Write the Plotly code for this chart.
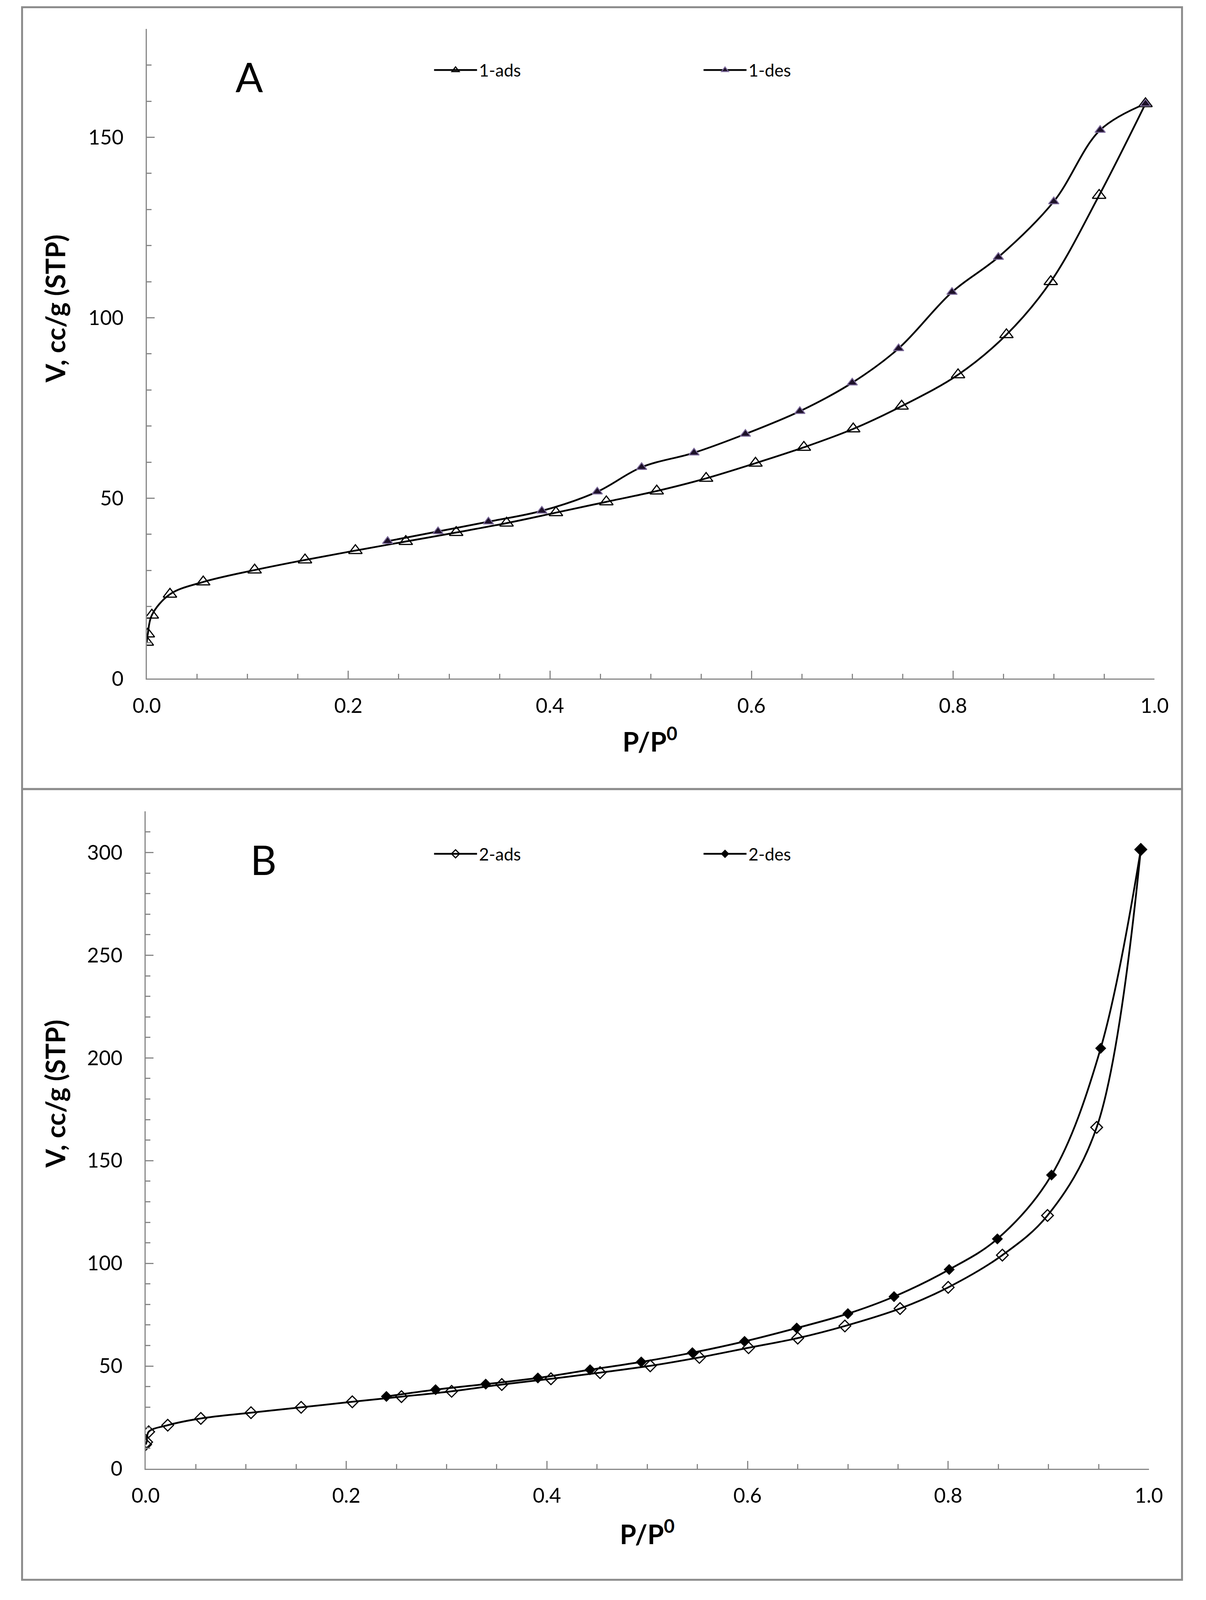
import plotly.graph_objects as go

# Reference frame (used for proportional placement) and the actual visible viewport size
REF_W, REF_H = 3088, 4822
FIG_W, FIG_H = 3088, 4096

# ---------------- Data: Panel A ----------------
a_ads_x = [0.000, 0.001, 0.005, 0.023, 0.056, 0.107, 0.157, 0.207, 0.257, 0.307, 0.357, 0.406,
           0.456, 0.506, 0.555, 0.604, 0.652, 0.701, 0.749, 0.805, 0.853, 0.897, 0.945, 0.991]
a_ads_y = [10.1, 12.4, 17.6, 23.4, 26.8, 30.1, 32.9, 35.5, 38.0, 40.5, 43.1, 46.0,
           49.0, 52.0, 55.5, 59.7, 64.1, 69.2, 75.5, 84.2, 95.3, 110.0, 133.9, 159.3]
a_des_x = [0.991, 0.946, 0.900, 0.845, 0.799, 0.746, 0.700, 0.648, 0.594, 0.543, 0.491,
           0.447, 0.392, 0.339, 0.289, 0.239]
a_des_y = [159.3, 152.0, 132.2, 116.8, 107.1, 91.5, 82.0, 74.1, 67.8, 62.6, 58.6,
           51.8, 46.5, 43.5, 40.8, 38.1]

# ---------------- Data: Panel B ----------------
b_ads_x = [0.000, 0.001, 0.003, 0.022, 0.055, 0.105, 0.155, 0.206, 0.255, 0.305, 0.355, 0.404,
           0.453, 0.503, 0.552, 0.601, 0.650, 0.697, 0.752, 0.800, 0.854, 0.899, 0.948, 0.992]
b_ads_y = [11.8, 13.0, 18.0, 21.2, 24.5, 27.3, 29.9, 32.6, 35.1, 37.7, 41.0, 43.8,
           46.8, 50.1, 54.2, 58.9, 63.6, 69.5, 78.0, 88.3, 104.0, 123.3, 166.2, 301.5]
b_des_x = [0.992, 0.952, 0.903, 0.849, 0.801, 0.746, 0.700, 0.649, 0.597, 0.545, 0.494,
           0.443, 0.391, 0.339, 0.289, 0.240]
b_des_y = [301.5, 204.7, 143.0, 111.9, 97.0, 83.8, 75.5, 68.5, 62.0, 56.5, 52.0,
           48.2, 44.2, 41.2, 38.5, 35.2]

x_ticks = [0.0, 0.2, 0.4, 0.6, 0.8, 1.0]
x_ticklabels = ["0.0", "0.2", "0.4", "0.6", "0.8", "1.0"]
a_yticks = [0, 50, 100, 150]
b_yticks = [0, 50, 100, 150, 200, 250, 300]

FONT = "Lato, 'Open Sans', sans-serif"
AXIS_GREY = "#878787"


def px(x):
    return x / REF_W


def py(y):
    return 1 - y / REF_H


fig = go.Figure()

line = dict(color="black", width=4.5, shape="spline", smoothing=1.0)

fig.add_trace(go.Scatter(
    x=a_ads_x, y=a_ads_y, mode="lines+markers", name="1-ads", line=line,
    marker=dict(symbol="triangle-up-open", size=30, color="black", line=dict(width=3, color="black")),
    xaxis="x", yaxis="y", legend="legend"))
fig.add_trace(go.Scatter(
    x=a_des_x, y=a_des_y, mode="lines+markers", name="1-des", line=line,
    marker=dict(symbol="triangle-up", size=23, color="#1c1028", line=dict(width=2.5, color="#7e6c9c")),
    xaxis="x", yaxis="y", legend="legend"))
fig.add_trace(go.Scatter(
    x=b_ads_x, y=b_ads_y, mode="lines+markers", name="2-ads", line=line,
    marker=dict(symbol="diamond-open", size=23, color="black", line=dict(width=3, color="black")),
    xaxis="x2", yaxis="y2", legend="legend2"))
fig.add_trace(go.Scatter(
    x=b_des_x, y=b_des_y, mode="lines+markers", name="2-des", line=line,
    marker=dict(symbol="diamond", size=21, color="black", line=dict(width=1, color="black")),
    xaxis="x2", yaxis="y2", legend="legend2"))

common_axis = dict(
    showgrid=False, zeroline=False, showline=True, linecolor=AXIS_GREY, linewidth=3,
    ticks="inside", ticklen=20, tickwidth=3, tickcolor=AXIS_GREY,
    tickfont=dict(family=FONT, size=52, color="black"),
    mirror=False,
)

xa = dict(common_axis, range=[0, 1.0], tickvals=x_ticks, ticktext=x_ticklabels,
          minor=dict(ticks="inside", ticklen=12, tickwidth=3, tickcolor=AXIS_GREY, dtick=0.05),
          ticklabelstandoff=22)
ya = dict(common_axis,
          minor=dict(ticks="inside", ticklen=12, tickwidth=3, tickcolor=AXIS_GREY, dtick=10),
          ticklabelstandoff=46)

legend_common = dict(orientation="h", xanchor="left", yanchor="middle",
                     font=dict(family=FONT, size=44, color="black"), bgcolor="rgba(0,0,0,0)",
                     entrywidth=565, itemwidth=110, tracegroupgap=0, borderwidth=0)

fig.update_layout(
    width=FIG_W, height=FIG_H,
    margin=dict(l=0, r=0, t=0, b=0),
    paper_bgcolor="white", plot_bgcolor="white",
    font=dict(family=FONT, color="black"),
    xaxis=dict(xa, domain=[px(348), px(2990)], anchor="y"),
    yaxis=dict(ya, domain=[py(2060), py(88)], range=[0, 180], tickvals=a_yticks, anchor="x"),
    xaxis2=dict(xa, domain=[px(345), px(2975)], anchor="y2"),
    yaxis2=dict(ya, domain=[py(4458), py(2463)], range=[0, 320], tickvals=b_yticks, anchor="x2"),
    legend=dict(legend_common, x=px(1096), y=py(213)),
    legend2=dict(legend_common, x=px(1096), y=py(2592)),
    showlegend=True,
)

title_font = dict(family=FONT, size=68, color="black")
annotations = [
    dict(text="<b>V, cc/g (STP)</b>", x=px(107), y=py(937), textangle=-90, font=title_font),
    dict(text="<b>P/P<sup>0</sup></b>", x=px(1667), y=py(2245), font=title_font),
    dict(text="<b>V, cc/g (STP)</b>", x=px(107), y=py(3320), textangle=-90, font=title_font),
    dict(text="<b>P/P<sup>0</sup></b>", x=px(1660), y=py(4650), font=title_font),
    dict(text="A", x=px(617), y=py(232), font=dict(family=FONT, size=104, color="black")),
    dict(text="B", x=px(654), y=py(2608), font=dict(family=FONT, size=104, color="black")),
]
for a in annotations:
    a.update(xref="paper", yref="paper", showarrow=False, xanchor="center", yanchor="middle")
fig.update_layout(annotations=annotations)

border = dict(color="#8c8c8c", width=5)
fig.update_layout(shapes=[
    dict(type="rect", xref="paper", yref="paper", x0=px(21), x1=px(3062), y0=py(2395), y1=py(22), line=border),
    dict(type="rect", xref="paper", yref="paper", x0=px(21), x1=px(3062), y0=py(4795), y1=py(2395), line=border),
])

fig.write_html("out.html", config={"displayModeBar": False},
               post_script="document.body.style.margin='0';")
